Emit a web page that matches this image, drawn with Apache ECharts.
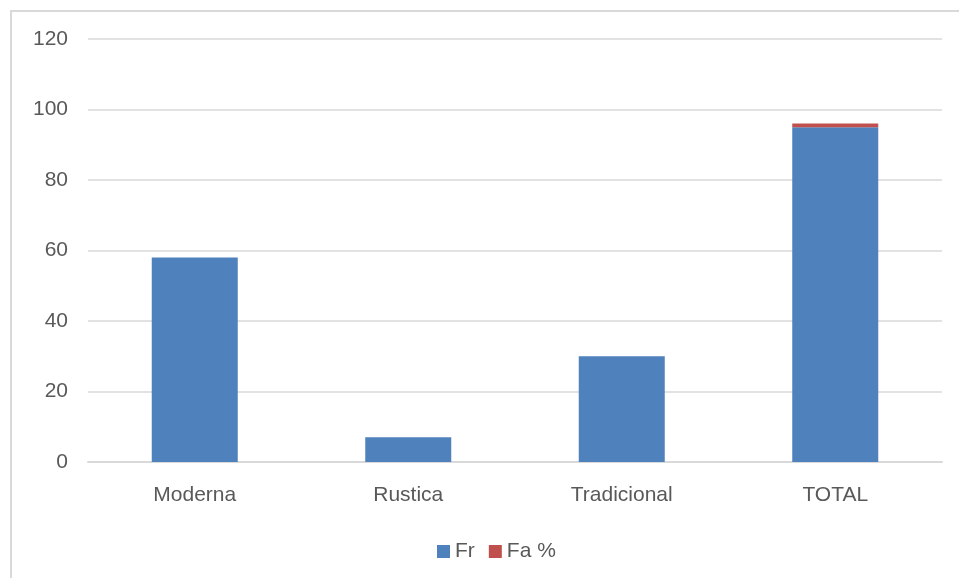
<!DOCTYPE html>
<html>
<head>
<meta charset="utf-8">
<script src="https://cdn.jsdelivr.net/npm/echarts@6/dist/echarts.min.js"></script>
<style>
  html, body { margin: 0; padding: 0; background: #fff; }
  #frame {
    position: absolute; left: 10px; top: 10px; width: 949px; height: 568px;
    border-top: 2px solid #d9d9d9; border-left: 2px solid #d9d9d9;
    box-sizing: border-box;
  }
  #chart { position: absolute; left: 0; top: 0; width: 959px; height: 578px; }
</style>
</head>
<body>
<div id="frame"></div>
<div id="chart"></div>
<script>
// datos del grafico
const categorias = ['Moderna', 'Rustica', 'Tradicional', 'TOTAL'];
const fr = [58, 7, 30, 95];
const faPct = [0, 0, 0, 1];
const seriesNames = ['Fr', 'Fa %'];

const chart = echarts.init(document.getElementById('chart'));
const textColor = '#595959';
const font = 'Liberation Sans';

chart.setOption({
  animation: false,
  textStyle: { fontFamily: font },
  grid: { left: 88, right: 17, top: 39, bottom: 116 },
  legend: {
    data: seriesNames,
    left: 432,
    top: 536,
    itemWidth: 13,
    itemHeight: 13,
    itemGap: 14,
    icon: 'rect',
    textStyle: { color: textColor, fontSize: 21, fontFamily: font }
  },
  xAxis: {
    type: 'category',
    data: categorias,
    axisLine: { lineStyle: { color: '#d9d9d9', width: 2 } },
    axisTick: { show: false },
    axisLabel: { color: textColor, fontSize: 21, margin: 23, fontFamily: font }
  },
  yAxis: {
    type: 'value',
    min: 0,
    max: 120,
    interval: 20,
    axisLine: { show: false },
    axisTick: { show: false },
    axisLabel: { color: textColor, fontSize: 21, margin: 20, fontFamily: font, padding: [3, 0, 0, 0] },
    splitLine: { lineStyle: { color: '#d9d9d9', width: 1.5 } }
  },
  series: [
    {
      name: 'Fr', type: 'bar', stack: 'total', data: fr,
      barWidth: 86, itemStyle: { color: '#4f81bd' }
    },
    {
      name: 'Fa %', type: 'bar', stack: 'total', data: faPct,
      barWidth: 86, itemStyle: { color: '#c0504d' }
    }
  ]
});
</script>
</body>
</html>
